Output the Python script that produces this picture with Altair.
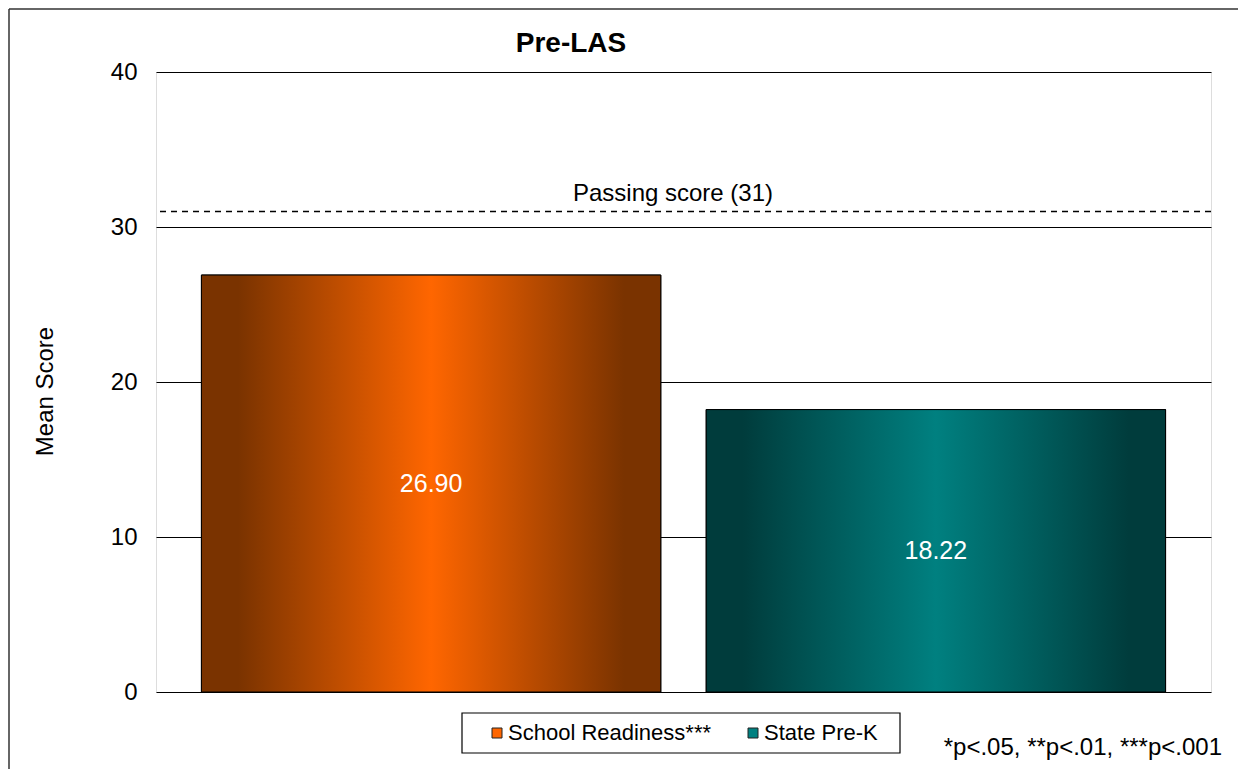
import altair as alt
import pandas as pd

# ---- data ----
groups = ["School Readiness***", "State Pre-K"]
means = [26.90, 18.22]
value_labels = ["26.90", "18.22"]
y_ticks = [0, 10, 20, 30, 40]
passing_score = [31]
passing_label = ["Passing score (31)"]
chart_title = ["Pre-LAS"]
footnote = ["*p<.05, **p<.01, ***p<.001"]
flat_colors = ["#ff6600", "#008080"]
dark_colors = ["#7a3300", "#003c3c"]

df = pd.DataFrame({"group": groups, "mean": means, "label": value_labels})
df["half"] = df["mean"] / 2
pass_df = pd.DataFrame({"mean": passing_score, "label": passing_label})

W, H = 1055, 620
PAD_L, PAD_T, PAD_R, PAD_B = 148, 64, 30, 77
FONT = "Liberation Sans"
FS = 24

yscale = alt.Scale(domain=[0, 40], nice=False)
yaxis = alt.Axis(values=y_ticks, grid=True, gridColor="black", gridWidth=1,
                 domain=False, ticks=False, tickSize=0, labelPadding=19,
                 labelFontSize=FS, labelFont=FONT, labelColor="black",
                 title="Mean Score", titleFontSize=FS, titleFont=FONT,
                 titleFontWeight="normal", titleColor="black", titleAngle=270,
                 titleX=-111, titleY=319, titleAlign="center", titleBaseline="middle")
xenc = alt.X("group:N", sort=groups, axis=None,
             scale=alt.Scale(domain=groups, paddingInner=0.09, paddingOuter=0.09))

# decorative outer frame (only left and top edges are inside the window)
frame_src = pd.DataFrame({"k": [0]})
frame_left = alt.Chart(frame_src).mark_rule(color="#333333", strokeWidth=1.5).encode(
    x=alt.value(-147), y=alt.value(-63), y2=alt.value(H + PAD_B + 20))
frame_top = alt.Chart(frame_src).mark_rule(color="#333333", strokeWidth=1.5).encode(
    x=alt.value(-147), x2=alt.value(W + PAD_R + 20), y=alt.value(-63))
edge_mask = alt.Chart(frame_src).mark_rule(color="white", strokeWidth=4).encode(
    x=alt.value(W + PAD_R - 1), y=alt.value(-PAD_T - 5), y2=alt.value(H + PAD_B + 5))

legend_box = alt.Chart(frame_src).mark_rect(
    fill="white", stroke="black", strokeWidth=1.2
).encode(x=alt.value(306), x2=alt.value(744), y=alt.value(641), y2=alt.value(681))

base_bars = alt.Chart(df).mark_bar(stroke="black", strokeWidth=1).encode(
    x=xenc,
    y=alt.Y("mean:Q", scale=yscale, axis=yaxis),
    color=alt.Color("group:N", sort=groups,
                    scale=alt.Scale(domain=groups, range=flat_colors),
                    legend=alt.Legend(title=None, orient="none", legendX=330, legendY=650,
                                      direction="horizontal", symbolType="square",
                                      symbolSize=100, symbolStrokeColor="#222222",
                                      symbolStrokeWidth=1, labelFontSize=22, labelFont=FONT,
                                      labelColor="black", labelOffset=0, columnPadding=30,
                                      padding=0, labelLimit=400)),
)

grad_layers = []
for g, c0, c1 in zip(groups, dark_colors, flat_colors):
    grad = alt.LinearGradient(
        gradient="linear", x1=0, x2=1, y1=0, y2=0,
        stops=[alt.GradientStop(offset=0, color=c0),
               alt.GradientStop(offset=0.08, color=c0),
               alt.GradientStop(offset=0.5, color=c1),
               alt.GradientStop(offset=0.92, color=c0),
               alt.GradientStop(offset=1, color=c0)])
    grad_layers.append(
        alt.Chart(df).transform_filter(alt.datum.group == g)
        .mark_bar(fill=grad, stroke="black", strokeWidth=1)
        .encode(x=xenc, y=alt.Y("mean:Q", scale=yscale, axis=yaxis))
    )

bar_text = alt.Chart(df).mark_text(color="white", fontSize=25, font=FONT, baseline="middle").encode(
    x=xenc, y=alt.Y("half:Q", scale=yscale, axis=yaxis), text="label:N")

pass_rule = alt.Chart(pass_df).mark_rule(color="black", strokeDash=[6, 5], strokeWidth=1.5).encode(
    y=alt.Y("mean:Q", scale=yscale, axis=yaxis))

pass_text = alt.Chart(pass_df).mark_text(fontSize=FS, font=FONT, color="black",
                                         baseline="alphabetic", dy=-11).encode(
    x=alt.value(517), y=alt.Y("mean:Q", scale=yscale, axis=yaxis), text="label:N")

title_text = alt.Chart(pd.DataFrame({"t": chart_title})).mark_text(
    fontSize=28, font=FONT, fontWeight="bold", color="black", baseline="middle"
).encode(x=alt.value(415), y=alt.value(-28), text="t:N")

foot_text = alt.Chart(pd.DataFrame({"t": footnote})).mark_text(
    fontSize=FS, font=FONT, color="black", align="right", baseline="alphabetic"
).encode(x=alt.value(1066), y=alt.value(683), text="t:N")

chart = alt.layer(frame_left, frame_top, legend_box, base_bars, *grad_layers, bar_text,
                  pass_rule, pass_text, title_text, foot_text, edge_mask).properties(
    width=W, height=H,
    autosize=alt.AutoSizeParams(type="none"),
    padding={"left": PAD_L, "top": PAD_T, "right": PAD_R, "bottom": PAD_B},
    background="white",
).configure_view(stroke="black", strokeWidth=1.5).configure(font=FONT)

chart.save("out.html", embed_options={"renderer": "svg", "actions": False})
